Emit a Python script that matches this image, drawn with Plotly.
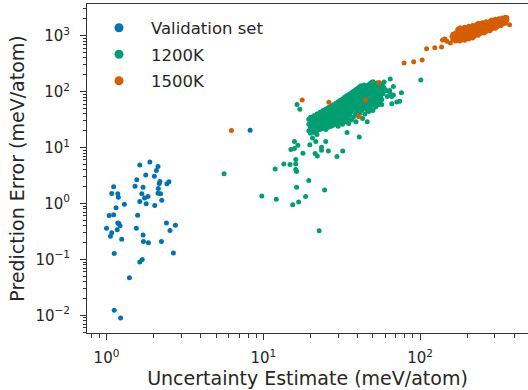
import plotly.graph_objects as go

# ---------------- data ----------------
val_x = [1.63, 1.89, 2.13, 2.08, 1.78, 2.02, 1.56, 2.19, 2.17, 2.50, 2.43, 1.11, 1.52, 1.71, 2.14,
         1.08, 1.18, 1.19, 1.68, 1.75, 1.84, 2.13, 2.21, 1.63, 1.79, 2.25, 1.30, 2.03, 1.15, 1.04,
         1.11, 1.58, 1.18, 1.22, 1.20, 1.00, 1.17, 1.08, 1.06, 1.55, 2.41, 2.75, 2.54, 1.71, 1.25,
         1.72, 1.85, 2.24, 1.12, 2.67, 1.69, 1.63, 1.40, 1.12, 1.23, 8.24]
val_y = [4.9, 5.55, 4.6, 3.9, 3.25, 3.07, 2.65, 2.47, 2.28, 2.44, 2.25, 1.99, 2.04, 1.96, 1.85,
         1.51, 1.49, 1.30, 1.49, 1.26, 1.33, 1.53, 1.49, 1.09, 0.99, 1.15, 0.97, 0.92, 0.84, 0.61,
         0.63, 0.62, 0.45, 0.40, 0.44, 0.36, 0.34, 0.30, 0.26, 0.36, 0.45, 0.41, 0.33, 0.275, 0.23,
         0.21, 0.20, 0.21, 0.128, 0.13, 0.100, 0.090, 0.047, 0.0124, 0.0090, 20.4]

# 1200K: scattered points
g_sc_x = [5.62, 9.78, 12.1, 11.9, 13.5, 14.8, 15.4, 16.8, 16.3, 18.6, 19.5, 22.7, 24.6, 16.1, 16.3,
          16.1, 16.1, 17.9, 15.0, 15.8, 15.8, 16.6, 16.4, 17.1, 19.8, 20.6, 21.4, 22.1, 21.6, 23.5,
          23.5, 26.0, 25.0, 29.5, 32.1, 21.5, 22.0, 20.4, 34.2, 40.9, 36.6, 76.0, 74.0, 66.0, 67.5,
          64.5, 60.0, 63.7, 67.5, 65.3, 71.0, 55.5, 56.9, 101.0, 60.6, 64.0, 61.8, 66.0, 46.7]
g_sc_y = [3.39, 1.37, 1.19, 4.16, 5.1, 5.0, 0.95, 1.07, 1.96, 1.33, 2.57, 0.325, 1.75, 4.05, 3.73,
          5.1, 6.1, 7.9, 9.2, 9.6, 12.8, 11.0, 58.6, 48.4, 11.2, 14.9, 7.8, 7.1, 12.8, 10.1,
          9.0, 8.7, 12.8, 6.9, 8.7, 18.3, 17.1, 29.9, 18.5, 15.5, 93.0, 95.0, 67.0, 61.0, 124.0,
          168.0, 104.0, 99.0, 87.0, 88.0, 65.5, 64.0, 58.6, 162.0, 105.0, 105.0, 82.0, 82.0, 95.0]

# 1200K: dense band
g_cl_x = [19.5]*3 + [20]*4 + [20.5]*2 + [21]*4 + [21.5]*2 + [22]*4 + [22.5]*2 + [23]*4 + [23.5]*2 \
    + [24]*4 + [24.5]*2 + [25]*5 + [25.5]*2 + [26]*4 + [26.5]*3 + [27]*4 + [27.5]*3 + [28]*4 \
    + [28.5]*3 + [29]*4 + [29.5]*3 + [30]*4 + [30.5]*3 + [31]*4 + [31.5]*3 + [32]*4 + [32.5]*3 \
    + [33]*4 + [33.5]*3 + [34]*4 + [34.5]*3 + [35]*4 + [35.5]*3 + [36]*4 + [36.5]*3 + [37]*4 \
    + [37.5]*3 + [38]*4 + [38.5]*3 + [39]*4 + [39.5]*3 + [40]*4 + [40.5]*3 + [41]*4 + [41.5]*3 \
    + [42]*4 + [42.5]*3 + [43]*4 + [43.5]*3 + [44]*4 + [44.5]*3 + [45]*4 + [45.5]*3 + [46]*4 \
    + [46.5]*3 + [47]*4 + [47.5]*3 + [48]*4 + [48.5]*3 + [49]*4 + [49.5]*3 + [50]*4 + [51]*4 \
    + [52]*4 + [53]*4 + [54]*4 + [55]*4 + [56]*3 + [57]*3 + [58]*2 + [59]*2
g_cl_y = [20, 26, 32, 18, 23, 29, 35, 21, 27, 19, 25, 31, 37, 22, 28, 20, 24, 33, 40, 26, 30,
          21, 28, 36, 43, 24, 32, 22, 27, 38, 46, 30, 35, 21, 25, 33, 41, 49, 28, 37, 23, 31, 44, 52,
          26, 35, 40, 24, 29, 47, 55, 33, 38, 43, 25, 30, 50, 58, 36, 41, 46, 27, 33, 53, 62,
          39, 44, 49, 24, 31, 57, 66, 36, 42, 48, 28, 53, 61, 70, 39, 45, 34, 26, 50, 57, 74,
          42, 65, 31, 36, 47, 54, 79, 60, 69, 29, 40, 51, 45, 84, 64, 73, 33, 27, 57, 48, 88,
          38, 68, 78, 43, 53, 61, 93, 72, 83, 31, 47, 57, 66, 98, 35, 77, 88, 51, 62, 70, 104,
          40, 81, 93, 29, 55, 66, 109, 45, 75, 86, 59, 70, 98, 115, 36, 50, 80, 63, 91, 103, 121,
          42, 55, 74, 68, 85, 96, 127, 47, 60, 79, 33, 72, 90, 108, 52, 65, 84, 77, 95, 114, 132,
          40, 57, 70, 62, 82, 100, 120, 48, 75, 89, 29, 67, 105, 126, 55, 80, 95, 72, 111, 133, 44,
          61, 86, 100, 51, 77, 117, 139, 66, 92, 106, 57, 82, 123, 145, 71, 97, 112, 46, 87, 129, 150,
          62, 103, 118, 76, 53, 92, 135, 110, 67, 84, 124, 142, 58, 100, 115, 75, 88, 130, 106, 66,
          120, 97, 80, 138, 110, 72, 125, 92, 115, 148]

# 1500K: scattered points
o_sc_x = [6.26, 17.7, 26.2, 54.7, 44.8, 40.8, 79, 91, 103, 110, 124, 137, 139, 144, 148, 156,
          160, 172, 372, 355]
o_sc_y = [20.1, 71, 64.5, 146, 71, 36.8, 325, 343, 368, 586, 611, 628, 838, 871, 791, 741,
          972, 814, 1571, 2090]

# 1500K: dense band
o_cl_x = [162]*3 + [168]*4 + [174]*5 + [180]*6 + [186]*5 + [192]*6 + [198]*5 + [204]*6 + [210]*5 \
    + [216]*6 + [222]*5 + [228]*5 + [235]*6 + [242]*5 + [249]*5 + [256]*5 + [263]*5 + [270]*4 \
    + [278]*5 + [286]*5 + [294]*4 + [302]*5 + [310]*4 + [318]*4 + [326]*4 + [334]*4 + [342]*3 \
    + [350]*4 + [358]*2
o_cl_y = [850, 960, 1060, 800, 900, 1010, 1120, 840, 950, 1060, 1180, 1300,
          800, 900, 1000, 1120, 1240, 1380, 860, 960, 1070, 1190, 1320,
          830, 930, 1040, 1150, 1280, 1420, 900, 1000, 1110, 1230, 1360,
          870, 970, 1080, 1200, 1330, 1470, 940, 1050, 1160, 1290, 1420,
          910, 1020, 1130, 1250, 1380, 1520, 980, 1090, 1210, 1340, 1480,
          1050, 1160, 1280, 1410, 1570, 1020, 1130, 1250, 1380, 1520, 1660,
          1090, 1210, 1340, 1480, 1620, 1160, 1290, 1420, 1570, 1710,
          1120, 1240, 1370, 1510, 1660, 1190, 1320, 1460, 1610, 1770,
          1270, 1400, 1550, 1700, 1230, 1350, 1490, 1640, 1800,
          1310, 1440, 1590, 1750, 1900, 1400, 1540, 1690, 1850,
          1360, 1490, 1640, 1800, 1960, 1450, 1590, 1750, 1920,
          1540, 1690, 1850, 2010, 1500, 1640, 1800, 1970, 1600, 1750, 1910, 2070,
          1690, 1850, 2020, 1660, 1800, 1960, 2130, 1900, 2080]

names = ["Validation set", "1200K", "1500K"]
colors = ["#0173b2", "#029e73", "#d55e00"]

x_major = [1, 10, 100]
x_labels = ["10<sup>0</sup>", "10<sup>1</sup>", "10<sup>2</sup>"]
y_major = [0.01, 0.1, 1, 10, 100, 1000]
y_labels = ["10<sup>\u22122</sup>", "10<sup>\u22121</sup>", "10<sup>0</sup>",
            "10<sup>1</sup>", "10<sup>2</sup>", "10<sup>3</sup>"]

# ---------------- figure ----------------
FONT = "DejaVu Sans"
TXT = "#262626"
MS = 5

fig = go.Figure()
series = [
    (val_x, val_y, 0),
    (g_cl_x + g_sc_x, g_cl_y + g_sc_y, 1),
    (o_cl_x + o_sc_x, o_cl_y + o_sc_y, 2),
]
for xs, ys, i in series:
    fig.add_trace(go.Scatter(x=xs, y=ys, mode="markers", showlegend=False,
                             marker=dict(size=MS, color=colors[i], line=dict(width=0)),
                             hoverinfo="skip"))
for i, nm in enumerate(names):
    fig.add_trace(go.Scatter(x=[None], y=[None], mode="markers", name=nm,
                             legendgroup=nm,
                             marker=dict(size=9, color=colors[i])))

x_minor = [m * 10 ** e for e in range(-1, 3) for m in range(2, 10)]
y_minor = [m * 10 ** e for e in range(-3, 4) for m in range(2, 10)]

axis_common = dict(
    type="log", showgrid=False, zeroline=False, automargin=False,
    showline=True, linecolor="#333333", linewidth=1,
    ticks="outside", ticklen=6, tickwidth=1, tickcolor="#333333",
    tickfont=dict(family=FONT, size=15, color=TXT),
    tickmode="array",
)

fig.update_layout(
    width=528, height=390,
    margin=dict(l=87, r=0, t=4, b=57),
    paper_bgcolor="white", plot_bgcolor="white",
    font=dict(family=FONT, color=TXT),
    hovermode=False,
    xaxis=dict(**axis_common, range=[-0.1244, 2.688], mirror=True,
               tickvals=x_major, ticktext=x_labels, ticklabelstandoff=5,
               minor=dict(tickvals=x_minor, ticks="outside", ticklen=3.5,
                          tickwidth=0.8, tickcolor="#333333"),
               title=dict(text="Uncertainty Estimate (meV/atom)",
                          font=dict(family=FONT, size=19, color=TXT), standoff=4)),
    yaxis=dict(**axis_common, range=[-2.314, 3.566], mirror=False,
               tickvals=y_major, ticktext=y_labels, ticklabelstandoff=7,
               minor=dict(tickvals=y_minor, ticks="outside", ticklen=3.5,
                          tickwidth=0.8, tickcolor="#333333"),
               title=dict(text="Prediction Error (meV/atom)",
                          font=dict(family=FONT, size=19, color=TXT), standoff=5)),
    legend=dict(x=0.0, y=0.98, xanchor="left", yanchor="top",
                bgcolor="rgba(0,0,0,0)", borderwidth=0,
                font=dict(family=FONT, size=16.5, color=TXT),
                itemwidth=54, tracegroupgap=2),
)

fig.write_html("out.html", config={"displayModeBar": False},
               post_script="document.body.style.margin='0';document.body.style.overflow='hidden';")
